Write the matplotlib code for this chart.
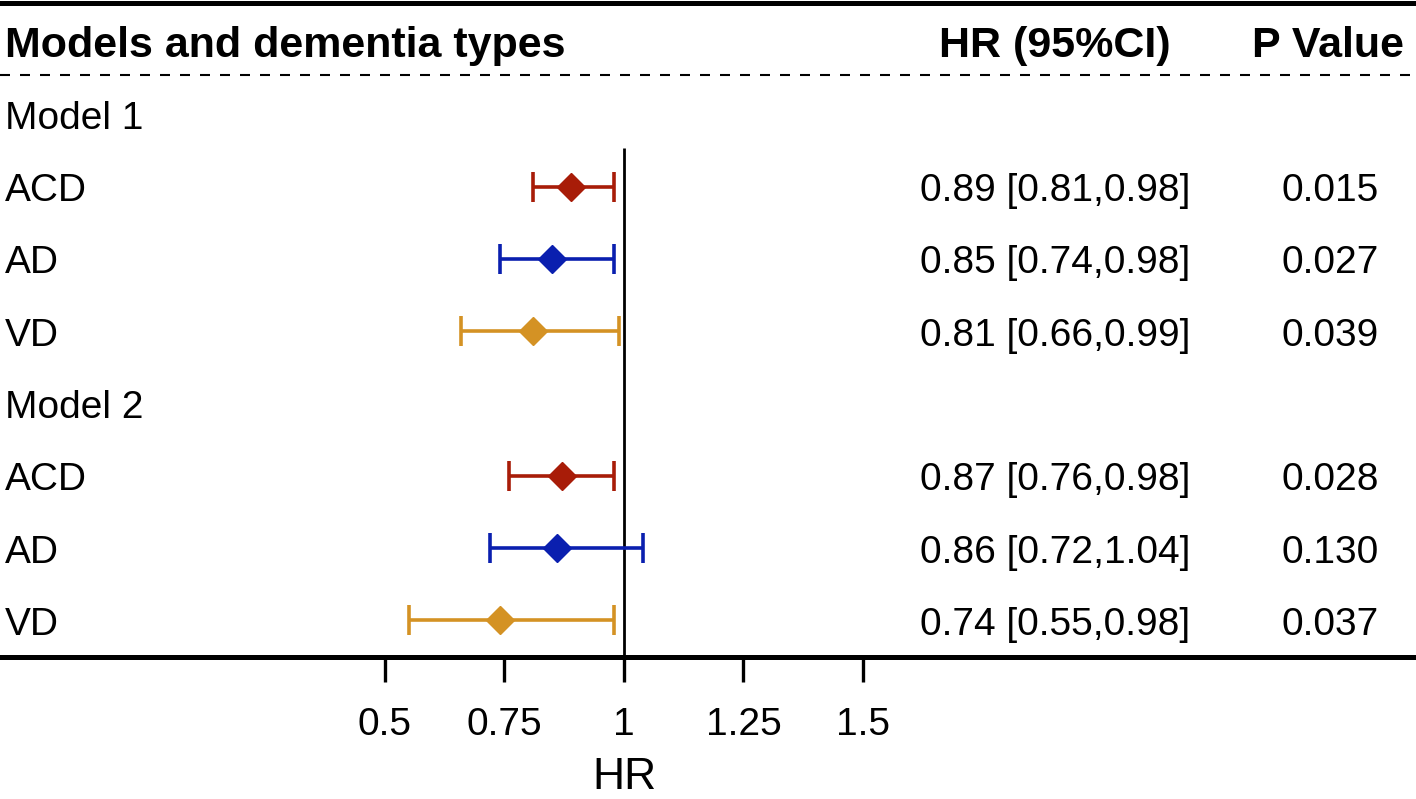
import matplotlib.pyplot as plt
from matplotlib.transforms import blended_transform_factory

plt.rcParams['font.family'] = ['Liberation Sans', 'DejaVu Sans']

models = ["Model 1", "Model 2"]
dementia_types = ["ACD", "AD", "VD"]
hr = [0.89, 0.85, 0.81, 0.87, 0.86, 0.74]
ci_low = [0.81, 0.74, 0.66, 0.76, 0.72, 0.55]
ci_high = [0.98, 0.98, 0.99, 0.98, 1.04, 0.98]
p_values = ["0.015", "0.027", "0.039", "0.028", "0.130", "0.037"]
type_colors = ["#A81C08", "#0A1FAF", "#D49224"]
xticks = [0.5, 0.75, 1, 1.25, 1.5]

fig = plt.figure(figsize=(14.16, 7.99), dpi=100)
ax = fig.add_axes([0, 0.1777, 1, 0.8223])

# x range chosen so that HR=1 sits at pixel 624 and 0.25 HR = ~119.5 px
ax.set_xlim(-0.3054, 2.657)
ax.set_ylim(8.506, -0.581)

trans = blended_transform_factory(ax.transAxes, ax.transData)
fs = 28
off = 0.2  # baseline offset so text is centred on the row

# header
for x, s, ha in [(5, "Models and dementia types", 'left'),
                 (1055, "HR (95%CI)", 'center'),
                 (1328, "P Value", 'center')]:
    ax.text(x / 1416, 0.21, s, transform=trans, fontsize=31,
            fontweight='bold', ha=ha, va='baseline')

ax.axhline(-0.539, color='black', lw=3.6, clip_on=False)
ax.axhline(0.456, color='black', lw=1.5, ls=(0, (4.8, 4.8)))

row = 1
k = 0
for m in models:
    ax.text(5 / 1416, row + off, m, transform=trans, fontsize=fs,
            ha='left', va='baseline')
    row += 1
    for j, t in enumerate(dementia_types):
        ax.text(5 / 1416, row + off, t, transform=trans, fontsize=fs,
                ha='left', va='baseline')
        ax.errorbar(hr[k], row, xerr=[[hr[k] - ci_low[k]], [ci_high[k] - hr[k]]],
                    fmt='D', color=type_colors[j], ms=14.5, elinewidth=2.6,
                    capsize=11, capthick=2.6, zorder=3)
        ax.text(1055 / 1416, row + off,
                f"{hr[k]:.2f} [{ci_low[k]:.2f},{ci_high[k]:.2f}]",
                transform=trans, fontsize=fs, ha='center', va='baseline')
        ax.text(1330 / 1416, row + off, p_values[k], transform=trans,
                fontsize=fs, ha='center', va='baseline')
        row += 1
        k += 1

ax.vlines(1, 1.466, 8.506, color='black', lw=2, zorder=2)

for s in ['top', 'left', 'right']:
    ax.spines[s].set_visible(False)
ax.spines['bottom'].set_linewidth(3.6)
ax.set_yticks([])
ax.set_xticks(xticks)
ax.set_xticklabels(["0.5", "0.75", "1", "1.25", "1.5"])
ax.tick_params(axis='x', length=18, width=2.4, labelsize=fs, pad=18)
ax.set_xlabel("HR", fontsize=32)
ax.xaxis.set_label_coords(624 / 1416, -0.152)

fig.savefig("out.png", dpi=100)
